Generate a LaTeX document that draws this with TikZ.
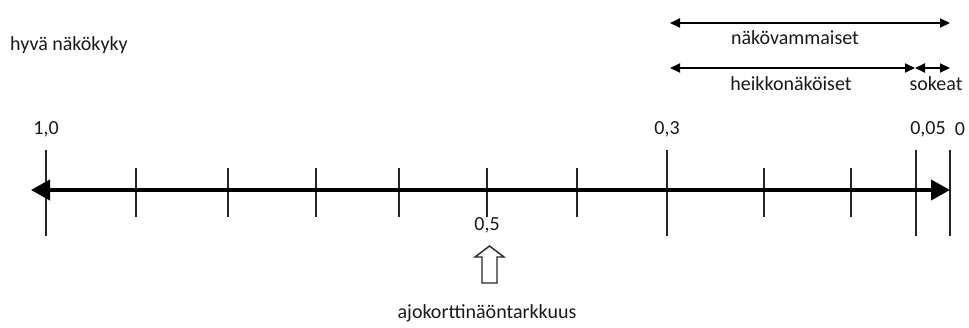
\documentclass[tikz,border=0pt]{standalone}
\usepackage{fontspec}
\setmainfont{Carlito}
\usetikzlibrary{arrows.meta}
\begin{document}
\begin{tikzpicture}[x=1pt,y=-1pt,
  lbl/.style={font=\fontsize{20}{22}\selectfont, inner sep=0pt, text=black!90},
  shorttick/.style={line width=1.6pt, black!85},
  longtick/.style={line width=1.6pt, black!85},
  axisline/.style={line width=4pt, {Triangle[length=19pt,width=20pt]}-{Triangle[length=19pt,width=20pt]}},
  rangearrow/.style={line width=2pt, {Triangle[length=10pt,width=9pt]}-{Triangle[length=10pt,width=9pt]}}]
\useasboundingbox (0,0) rectangle (969,327);
% axis ends
\coordinate (L) at (31,190);
\coordinate (R) at (950,190);
% long ticks
\foreach \n/\x in {a/46, b/667, c/916, d/950}{
  \coordinate (\n t) at (\x,150);
  \coordinate (\n b) at (\x,236);
  \draw[longtick] (\n t) -- (\n b);
}
% short ticks
\foreach \x in {136,228,316,399,487,577,764,851}{
  \draw[shorttick] (\x,168) -- (\x,217);
}
\draw[axisline] (L) -- (R);
% tick labels
\node[lbl] (l10) at (46,129) {1,0};
\node[lbl] (l03) at (667,129) {0,3};
\node[lbl] (l005) at (928,129) {0,05};
\node[lbl] (l0) at (960,129) {0};
\node[lbl] (l05) at (487,225) {0,5};
% hollow arrow
\draw[line width=1.4pt, black!85, line join=miter]
  (482,283) -- (482,257) -- (475,257) -- (489.5,246) -- (504,257) -- (497,257) -- (497,283) -- cycle;
\node[lbl] (ajo) at (487,313) {ajokorttinäöntarkkuus};
% top
\node[lbl, anchor=west] (hyva) at (10,45) {hyvä näkökyky};
\coordinate (v1) at (670,23);
\coordinate (v2) at (950,23);
\draw[rangearrow] (v1) -- (v2);
\node[lbl] (nv) at (795,38) {näkövammaiset};
\coordinate (h1) at (670,68);
\coordinate (h2) at (915,68);
\coordinate (s2) at (950,68);
\draw[rangearrow] (h1) -- (h2);
\draw[rangearrow] (h2) -- (s2);
\node[lbl] (hk) at (791,84) {heikkonäköiset};
\node[lbl] (sk) at (936,84) {sokeat};
\end{tikzpicture}
\end{document}
